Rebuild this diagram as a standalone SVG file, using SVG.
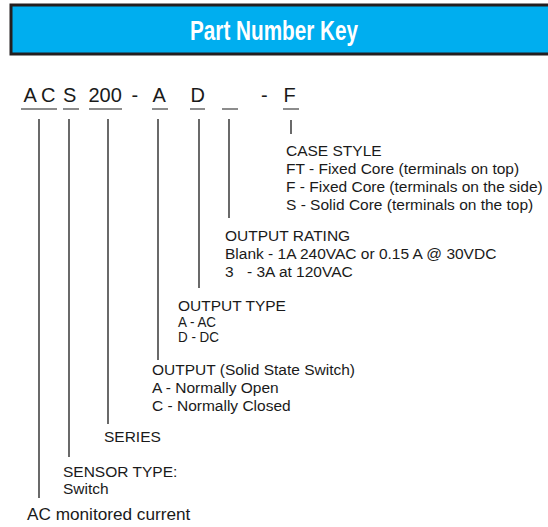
<svg xmlns="http://www.w3.org/2000/svg" width="548" height="527" viewBox="0 0 548 527">
<style>
.t{font-family:"Liberation Sans",Arial,sans-serif;font-size:15.5px;fill:#1a1a1a}
.pn{font-family:"Liberation Sans",Arial,sans-serif;font-size:20px;fill:#1a1a1a}
.ln{stroke:#1a1a1a;stroke-width:1.3;fill:none}
.ul{stroke:#1a1a1a;stroke-width:1.2;fill:none}
</style>
<rect width="548" height="527" fill="#ffffff"/>
<g id="header">
<rect x="11" y="5" width="545" height="49" fill="#00AEEF" stroke="#231F20" stroke-width="3"/>
<text x="190" y="40" font-family="Liberation Sans, Arial, sans-serif" font-weight="bold" font-size="27" fill="#ffffff" textLength="168" lengthAdjust="spacingAndGlyphs">Part Number Key</text>
</g>
<g id="part-number">
<text class="pn" x="23.5" y="102">A</text>
<text class="pn" x="41" y="102">C</text>
<text class="pn" x="63" y="102">S</text>
<text class="pn" x="88.5" y="102">200</text>
<text class="pn" x="131.5" y="102">-</text>
<text class="pn" x="152.5" y="102">A</text>
<text class="pn" x="190.5" y="102">D</text>
<text class="pn" x="261" y="102">-</text>
<text class="pn" x="283.5" y="102">F</text>
<path class="ul" d="M21 109H57M63 109H79M89 109H122M152 109H168M190 109H205M222 109H238M283 109H299"/>
</g>
<g id="connectors">
<path class="ln" d="M39 119V498"/>
<path class="ln" d="M69 119V457"/>
<path class="ln" d="M108 119V424"/>
<path class="ln" d="M158 119V360"/>
<path class="ln" d="M199 119V288"/>
<path class="ln" d="M229 119V218"/>
<path class="ln" d="M291 120V134"/>
</g>
<g id="case-style">
<text class="t" x="286" y="156">CASE STYLE</text>
<text class="t" x="286" y="174">FT - Fixed Core (terminals on top)</text>
<text class="t" x="286" y="192">F - Fixed Core (terminals on the side)</text>
<text class="t" x="286" y="210">S - Solid Core (terminals on the top)</text>
</g>
<g id="output-rating">
<text class="t" x="225" y="241">OUTPUT RATING</text>
<text class="t" x="225" y="259">Blank - 1A 240VAC or 0.15 A @ 30VDC</text>
<text class="t" x="225" y="277">3</text>
<text class="t" x="247" y="277">- 3A at 120VAC</text>
</g>
<g id="output-type">
<text class="t" x="178" y="311">OUTPUT TYPE</text>
<text class="t" x="178" y="327" textLength="38" lengthAdjust="spacingAndGlyphs">A - AC</text>
<text class="t" x="178" y="342" textLength="41" lengthAdjust="spacingAndGlyphs">D - DC</text>
</g>
<g id="output">
<text class="t" x="152" y="375">OUTPUT (Solid State Switch)</text>
<text class="t" x="152" y="393">A - Normally Open</text>
<text class="t" x="152" y="411">C - Normally Closed</text>
</g>
<g id="series">
<text class="t" x="104" y="442">SERIES</text>
</g>
<g id="sensor-type">
<text class="t" x="63" y="477">SENSOR TYPE:</text>
<text class="t" x="63" y="494">Switch</text>
</g>
<g id="ac-monitored">
<text class="t" x="27" y="520" style="font-size:17.2px">AC monitored current</text>
</g>
</svg>
